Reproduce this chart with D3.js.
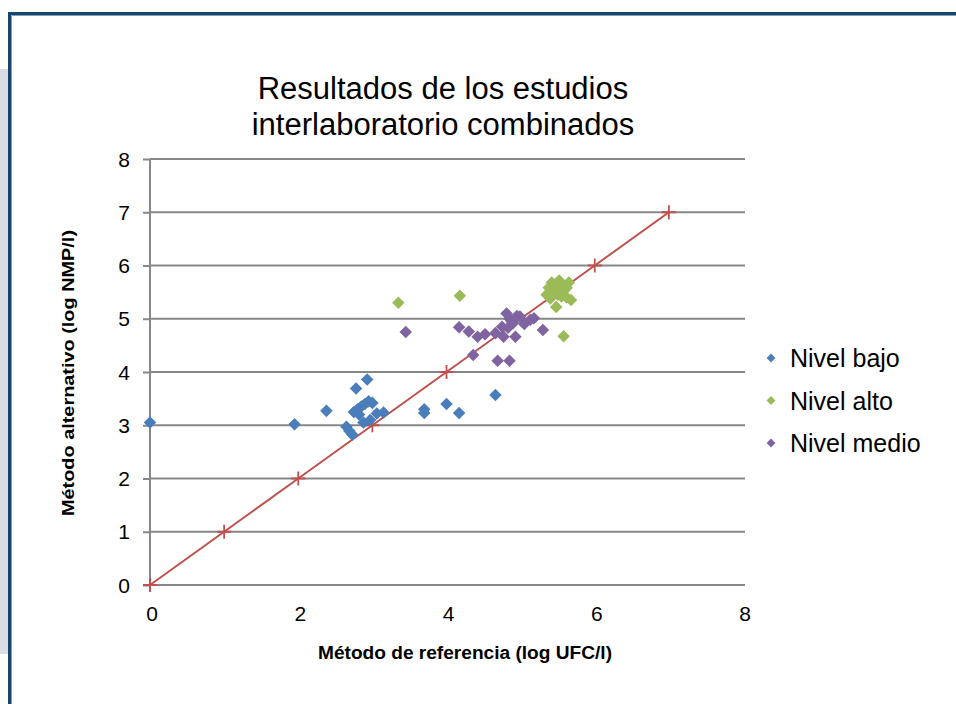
<!DOCTYPE html>
<html>
<head>
<meta charset="utf-8">
<script src="https://cdn.jsdelivr.net/npm/d3@7"></script>
<style>
  body { margin: 0; background: #fff; }
  svg { display: block; font-family: "Liberation Sans", Arial, sans-serif; }
</style>
</head>
<body>
<svg id="chart" width="956" height="704"></svg>
<script>
// datos
const titulo = ["Resultados de los estudios", "interlaboratorio combinados"];
const series = ["Nivel bajo", "Nivel alto", "Nivel medio"];
const colores = ["#4a7ebb", "#9bbb59", "#8064a2"];

const xBajo = [0.0, 1.95, 2.38, 2.65, 2.69, 2.73, 2.75, 2.78, 2.80, 2.82, 2.85, 2.88, 2.90, 2.93, 2.95, 2.97, 3.0, 3.06, 3.15, 3.70, 3.70, 4.0, 4.17, 4.66];
const yBajo = [3.05, 3.02, 3.27, 2.97, 2.89, 2.82, 3.25, 3.69, 3.30, 3.20, 3.35, 3.05, 3.40, 3.86, 3.45, 3.10, 3.42, 3.22, 3.24, 3.30, 3.23, 3.40, 3.23, 3.57];

const xAlto = [3.35, 4.18, 5.58, 5.35, 5.42, 5.48, 5.52, 5.55, 5.60, 5.65, 5.40, 5.45, 5.50, 5.58, 5.62, 5.68, 5.38, 5.50, 5.55, 5.62, 5.48];
const yAlto = [5.30, 5.43, 4.67, 5.45, 5.68, 5.55, 5.72, 5.50, 5.62, 5.68, 5.38, 5.50, 5.45, 5.52, 5.40, 5.35, 5.58, 5.60, 5.42, 5.58, 5.22];

const xMedio = [3.45, 4.17, 4.30, 4.36, 4.42, 4.52, 4.66, 4.69, 4.77, 4.81, 4.83, 4.85, 4.88, 4.90, 4.93, 4.95, 4.99, 5.05, 5.13, 5.18, 5.30, 4.75, 4.85];
const yMedio = [4.75, 4.84, 4.76, 4.32, 4.66, 4.71, 4.73, 4.21, 4.66, 5.10, 4.83, 4.21, 4.95, 4.92, 4.66, 5.05, 5.04, 4.90, 4.98, 5.01, 4.79, 4.85, 5.00];

// linea 1:1
const xLinea = [0, 1, 2, 3, 4, 5, 6, 7];
const yLinea = [0, 1, 2, 3, 4, 5, 6, 7];

const ticksX = [0, 2, 4, 6, 8];
const ticksY = [0, 1, 2, 3, 4, 5, 6, 7, 8];

const svg = d3.select('#chart');

/* MARCO */
svg.append('rect').attr('x', 0).attr('y', 69).attr('width', 8).attr('height', 585).attr('fill', '#d9dde3');
svg.append('path')
  .attr('d', 'M9.5,704 V13.5 H956')
  .attr('fill', 'none').attr('stroke', '#16466f').attr('stroke-width', 3);
svg.append('path')
  .attr('d', 'M11.5,704 V15.5 H956')
  .attr('fill', 'none').attr('stroke', '#7d9cb8').attr('stroke-width', 1);

/* ESCALAS */
const x = d3.scaleLinear().domain([0, 8]).range([150, 743]);
const y = d3.scaleLinear().domain([0, 8]).range([585, 159]);

/* REJILLA */
svg.append('g')
  .attr('transform', 'translate(150,0)')
  .call(d3.axisLeft(y).tickValues(ticksY).tickSize(7).tickFormat(''))
  .call(g => g.select('.domain').remove())
  .call(g => g.selectAll('line').attr('stroke', '#878787').attr('stroke-width', 2));
svg.append('g')
  .selectAll('line').data(ticksY).join('line')
  .attr('x1', 150).attr('x2', 745)
  .attr('y1', d => y(d)).attr('y2', d => y(d))
  .attr('stroke', '#878787').attr('stroke-width', 2);
svg.append('line')
  .attr('x1', 150).attr('x2', 150).attr('y1', y(8)).attr('y2', 591)
  .attr('stroke', '#878787').attr('stroke-width', 2);

/* ETIQUETAS DE EJES */
svg.append('g').selectAll('text').data(ticksY).join('text')
  .attr('x', 130).attr('y', d => y(d) + 7.5)
  .attr('text-anchor', 'end').attr('font-size', 21).attr('fill', '#000')
  .text(d => d);
svg.append('g').selectAll('text').data(ticksX).join('text')
  .attr('x', d => x(d) + 2).attr('y', 621)
  .attr('text-anchor', 'middle').attr('font-size', 21).attr('fill', '#000')
  .text(d => d);

svg.append('text')
  .attr('x', 465).attr('y', 659)
  .attr('text-anchor', 'middle').attr('font-size', 18).attr('font-weight', 'bold')
  .attr('textLength', 294).attr('lengthAdjust', 'spacingAndGlyphs')
  .text('Método de referencia (log UFC/l)');
svg.append('text')
  .attr('transform', 'translate(74,373) rotate(-90)')
  .attr('text-anchor', 'middle').attr('font-size', 17).attr('font-weight', 'bold')
  .attr('textLength', 286).attr('lengthAdjust', 'spacingAndGlyphs')
  .text('Método alternativo (log NMP/l)');

/* TITULO */
svg.append('g').selectAll('text').data(titulo).join('text')
  .attr('x', 443).attr('y', (d, i) => 99 + i * 36)
  .attr('text-anchor', 'middle').attr('font-size', 31).attr('fill', '#000')
  .text(d => d);

/* LINEA 1:1 */
const lineaDatos = xLinea.map((v, i) => [v, yLinea[i]]);
svg.append('path')
  .datum(lineaDatos)
  .attr('d', d3.line().x(d => x(d[0])).y(d => y(d[1])))
  .attr('fill', 'none').attr('stroke', '#c0504d').attr('stroke-width', 2);
svg.append('g').selectAll('path').data(lineaDatos).join('path')
  .attr('transform', d => `translate(${x(d[0])},${y(d[1])})`)
  .attr('d', 'M-7,0 H7 M0,-7 V7')
  .attr('stroke', '#c0504d').attr('stroke-width', 1.8);

/* PUNTOS */
const rombo = d3.symbol().type(d3.symbolDiamond2).size(100);
const grupos = [
  [xBajo, yBajo],
  [xAlto, yAlto],
  [xMedio, yMedio]
];
grupos.forEach((g, k) => {
  const pts = g[0].map((v, i) => [v, g[1][i]]);
  svg.append('g').selectAll('path').data(pts).join('path')
    .attr('transform', d => `translate(${x(d[0])},${y(d[1])})`)
    .attr('d', rombo)
    .attr('fill', colores[k]);
});

/* LEYENDA */
const ley = svg.append('g').selectAll('g').data(series).join('g')
  .attr('transform', (d, i) => `translate(771,${358 + i * 42.5})`);
ley.append('path')
  .attr('d', d3.symbol().type(d3.symbolDiamond2).size(50))
  .attr('fill', (d, i) => colores[i]);
ley.append('text')
  .attr('x', 19).attr('y', 9)
  .attr('font-size', 25).attr('fill', '#000')
  .text(d => d);
</script>
</body>
</html>
